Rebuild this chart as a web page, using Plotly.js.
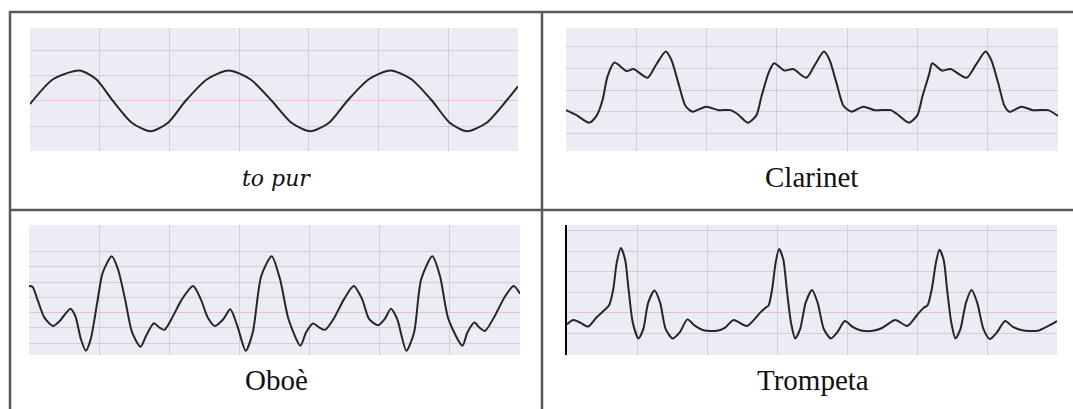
<!DOCTYPE html>
<html>
<head>
<meta charset="utf-8">
<script src="https://cdn.plot.ly/plotly-3.0.1.min.js"></script>
<style>
  html, body { margin: 0; padding: 0; background: #ffffff; }
  #chart { width: 1073px; height: 409px; }
</style>
</head>
<body>
<div id="chart"></div>
<script>
// ---- data (x in grid divisions, y in grid units) ----
const captions = ['to pur', 'Clarinet', 'Oboè', 'Trompeta'];
const gridX = [1, 2, 3, 4, 5, 6];

const sineX = [0.00, 0.33, 0.71, 0.95, 1.19, 1.46, 1.73, 1.98, 2.23, 2.54, 2.85, 3.16, 3.47, 3.75, 4.02, 4.29, 4.55, 4.86, 5.17, 5.47, 5.77, 6.02, 6.27, 6.55, 6.83, 7.00];
const sineY = [-0.12, 0.86, 1.21, 0.86, 0.00, -0.86, -1.20, -0.86, 0.00, 0.86, 1.21, 0.86, 0.00, -0.86, -1.20, -0.86, 0.00, 0.86, 1.21, 0.86, 0.00, -0.86, -1.20, -0.86, 0.00, 0.58];

const clarinetX = [0.00, 0.15, 0.33, 0.44, 0.52, 0.59, 0.69, 0.86, 0.96, 1.16, 1.28, 1.42, 1.50, 1.60, 1.70, 1.80, 1.99, 2.17, 2.34, 2.44, 2.59, 2.71, 2.78, 2.88, 2.96,
                   3.11, 3.23, 3.42, 3.54, 3.67, 3.75, 3.85, 3.95, 4.06, 4.23, 4.39, 4.62, 4.71, 4.88, 5.00, 5.07, 5.17, 5.21,
                   5.35, 5.47, 5.70, 5.83, 5.97, 6.05, 6.15, 6.24, 6.31, 6.48, 6.64, 6.86, 7.00];
const clarinetY = [-0.93, -1.16, -1.51, -1.16, -0.46, 0.62, 1.27, 0.88, 0.97, 0.57, 1.16, 1.78, 1.39, 0.31, -0.74, -1.00, -0.77, -0.93, -0.93, -1.11, -1.51, -1.16, -0.31, 0.77, 1.24,
                   0.90, 0.97, 0.57, 1.16, 1.78, 1.39, 0.31, -0.74, -1.00, -0.77, -0.93, -0.93, -1.11, -1.51, -1.16, -0.31, 0.77, 1.24,
                   0.90, 0.97, 0.57, 1.16, 1.78, 1.39, 0.31, -0.74, -1.00, -0.77, -0.93, -0.93, -1.20];

const oboeX = [0.00, 0.05, 0.12, 0.22, 0.34, 0.44, 0.59, 0.66, 0.74, 0.81, 0.88, 0.98, 1.05, 1.18, 1.27, 1.37, 1.47, 1.59, 1.67, 1.78, 1.86, 1.93, 2.03, 2.18, 2.34,
               2.45, 2.55, 2.65, 2.77, 2.87, 2.97, 3.09, 3.19, 3.31, 3.46, 3.58, 3.70, 3.87, 3.95, 4.05, 4.14, 4.22, 4.34, 4.49, 4.63,
               4.75, 4.85, 4.98, 5.07, 5.16, 5.25, 5.38, 5.49, 5.59, 5.75, 5.86, 5.98, 6.18, 6.25, 6.35, 6.42, 6.50, 6.64, 6.79, 6.91, 7.00];
const oboeY = [1.74, 1.70, 0.87, -0.33, -0.87, -0.54, 0.26, -0.22, -1.74, -2.50, -1.74, 0.87, 2.61, 3.70, 2.83, 0.87, -1.30, -2.24, -1.52, -0.70, -0.98, -1.13, -0.43, 0.87, 1.74,
               0.87, -0.33, -0.87, -0.43, 0.22, -0.87, -2.50, -1.30, 2.39, 3.70, 2.17, -0.43, -2.17, -1.30, -0.72, -0.98, -1.13, -0.43, 0.87, 1.74,
               0.87, -0.43, -0.83, -0.43, 0.26, -0.43, -2.50, -1.30, 2.17, 3.70, 2.39, -0.43, -2.17, -1.30, -0.65, -0.98, -1.20, -0.22, 1.09, 1.74, 1.24];

const trumpetX = [0.00, 0.09, 0.19, 0.30, 0.42, 0.52, 0.60, 0.66, 0.71, 0.77, 0.83, 0.88, 0.94, 1.02, 1.09, 1.16, 1.25, 1.33, 1.41, 1.51, 1.61, 1.72, 1.83, 1.95, 2.14, 2.26, 2.38, 2.57, 2.76,
                  2.84, 2.88, 2.93, 2.98, 3.03, 3.09, 3.14, 3.20, 3.26, 3.33, 3.41, 3.50, 3.58, 3.67, 3.77, 3.86, 3.97, 4.08, 4.20, 4.37, 4.50, 4.69, 4.86, 5.01,
                  5.10, 5.15, 5.21, 5.27, 5.32, 5.38, 5.43, 5.49, 5.55, 5.62, 5.70, 5.78, 5.86, 5.95, 6.04, 6.14, 6.26, 6.37, 6.50, 6.72, 6.89, 7.00];
const trumpetY = [-0.57, -0.36, -0.49, -0.68, -0.24, 0.08, 0.35, 1.13, 2.43, 3.16, 2.59, 1.13, -0.49, -1.26, -0.81, 0.49, 1.08, 0.49, -0.81, -1.26, -0.97, -0.33, -0.65, -0.86, -0.89, -0.73, -0.36, -0.65, 0.00,
                  0.25, 0.35, 1.13, 2.43, 3.11, 2.59, 1.13, -0.49, -1.26, -0.81, 0.49, 1.10, 0.49, -0.81, -1.26, -0.97, -0.41, -0.70, -0.87, -0.89, -0.75, -0.36, -0.65, -0.08,
                  0.25, 0.35, 1.13, 2.43, 3.07, 2.59, 1.13, -0.49, -1.26, -0.81, 0.49, 1.10, 0.49, -0.81, -1.29, -0.97, -0.41, -0.70, -0.86, -0.89, -0.62, -0.41];

// ---- layout helpers (pixel geometry of the table) ----
const W = 1073, H = 409;
const px = v => v / W;
const py = v => 1 - v / H;

const lineStyle = { color: '#262626', width: 2, shape: 'spline', smoothing: 0.7 };
function trace(x, y, n) {
  return { x: x, y: y, type: 'scatter', mode: 'lines', line: lineStyle,
           xaxis: n === 1 ? 'x' : 'x' + n, yaxis: n === 1 ? 'y' : 'y' + n,
           hoverinfo: 'skip', showlegend: false };
}

const gridColor = '#cfd0dc';
const pink = '#e6c2ca';
function xax(l, r) {
  return { domain: [px(l), px(r)], range: [0, 7], tickvals: gridX, showticklabels: false, ticks: '',
           showgrid: true, gridcolor: gridColor, gridwidth: 1, zeroline: false, showline: false, fixedrange: true };
}
function yax(t, b, range, ticks, anchor) {
  return { domain: [py(b), py(t)], range: range, tickvals: ticks, showticklabels: false, ticks: '',
           showgrid: true, gridcolor: gridColor, gridwidth: 1, zeroline: true, zerolinecolor: pink, zerolinewidth: 1,
           showline: false, fixedrange: true, anchor: anchor };
}

const data = [
  trace(sineX, sineY, 1),
  trace(clarinetX, clarinetY, 2),
  trace(oboeX, oboeY, 3),
  trace(trumpetX, trumpetY, 4)
];

const y4 = yax(225, 355, [-2.07, 4.28], [-1, 1, 2, 3, 4], 'x4');
y4.showline = true; y4.linecolor = '#000000'; y4.linewidth = 2;

const borderColor = '#595959';
const bw = 2.5;
const shapes = [
  { type: 'line', xref: 'paper', yref: 'paper', x0: px(9), x1: 1, y0: py(12), y1: py(12), line: { color: borderColor, width: bw } },
  { type: 'line', xref: 'paper', yref: 'paper', x0: px(9), x1: 1, y0: py(210), y1: py(210), line: { color: borderColor, width: bw } },
  { type: 'line', xref: 'paper', yref: 'paper', x0: px(10), x1: px(10), y0: py(11), y1: 0, line: { color: borderColor, width: bw } },
  { type: 'line', xref: 'paper', yref: 'paper', x0: px(542), x1: px(542), y0: py(11), y1: 0, line: { color: borderColor, width: bw } }
];

function cap(text, x, y, family, italic, size) {
  return { text: text, xref: 'paper', yref: 'paper', x: px(x), y: py(y), xanchor: 'center', yanchor: 'middle',
           showarrow: false, font: { family: family, size: size, color: '#111111', style: italic ? 'italic' : 'normal' } };
}

const layout = {
  width: W, height: H,
  margin: { l: 0, r: 0, t: 0, b: 0, pad: 0 },
  paper_bgcolor: '#ffffff', plot_bgcolor: '#ebecf4',
  font: { family: 'Liberation Serif' },
  showlegend: false,
  xaxis: xax(30, 518), yaxis: yax(28, 151, [-1.98, 2.89], [-1, 1, 2], 'x'),
  xaxis2: xax(566, 1058), yaxis2: yax(28, 151, [-2.82, 2.87], [-2, -1, 1, 2], 'x2'),
  xaxis3: xax(29, 520), yaxis3: yax(225, 355, [-2.78, 5.75], [-2, -1, 1, 2, 3, 4], 'x3'),
  xaxis4: xax(567, 1057), yaxis4: y4,
  shapes: shapes,
  annotations: [
    cap(captions[0], 276, 178, 'DejaVu Serif', true, 22),
    cap(captions[1], 811, 177, 'Liberation Serif', false, 29),
    cap(captions[2], 276, 380, 'Liberation Serif', false, 29),
    cap(captions[3], 813, 380, 'Liberation Serif', false, 29)
  ]
};

Plotly.newPlot('chart', data, layout, { displayModeBar: false, staticPlot: true });
</script>
</body>
</html>
